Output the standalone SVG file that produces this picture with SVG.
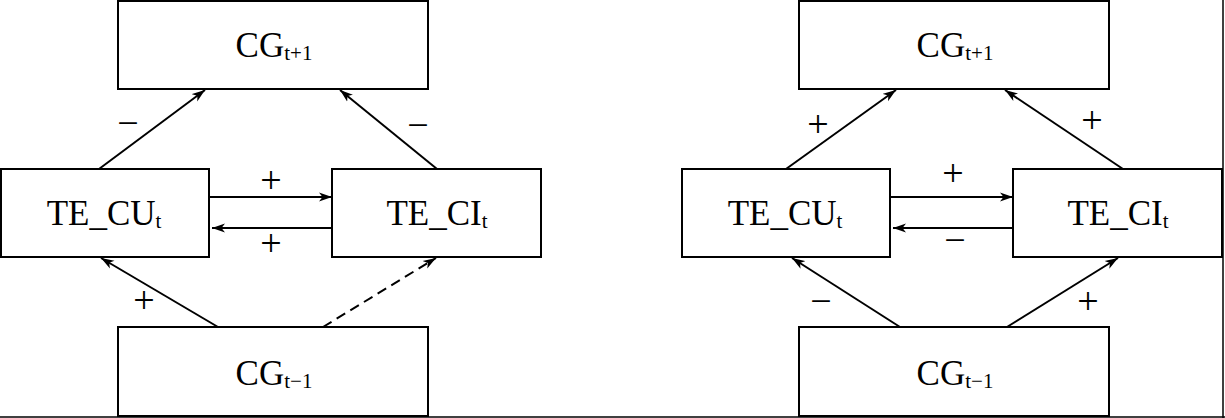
<svg xmlns="http://www.w3.org/2000/svg" width="1225" height="418" viewBox="0 0 1225 418">
<style>
.box{fill:#fff;stroke:#000;stroke-width:2}
.lbl{font-family:"Liberation Serif","Times New Roman",serif;font-size:35px;fill:#000;text-anchor:middle}
.sub{font-size:21px}
.sign{font-family:"Liberation Serif","Times New Roman",serif;font-size:38px;fill:#000;text-anchor:middle}
.c{stroke:#000;stroke-width:2;fill:none;marker-end:url(#ah)}
.d{stroke-dasharray:10 6}
.frame{stroke:#000;stroke-width:1.5;fill:none}
</style>
<defs>
<marker id="ah" markerUnits="userSpaceOnUse" markerWidth="14" markerHeight="10" refX="13" refY="5" orient="auto">
<path d="M0,0.5 L13,5 L0,9.5 L3.5,5 z" fill="#000"/>
</marker>
</defs>
<g id="frame">
<line class="frame" x1="1223" y1="0" x2="1223" y2="418"/>
<line class="frame" x1="0" y1="417" x2="1225" y2="417"/>
</g>
<g id="connectors">
<line class="c" x1="99" y1="169" x2="205" y2="90"/>
<line class="c" x1="437" y1="169" x2="340" y2="90"/>
<line class="c" x1="210" y1="197" x2="332" y2="197"/>
<line class="c" x1="332" y1="228" x2="212" y2="228"/>
<line class="c" x1="218" y1="327" x2="101" y2="258"/>
<line class="c d" x1="323" y1="327" x2="436" y2="258"/>
<line class="c" x1="786" y1="169" x2="896" y2="90"/>
<line class="c" x1="1123" y1="169" x2="1005" y2="90"/>
<line class="c" x1="891" y1="197" x2="1013" y2="197"/>
<line class="c" x1="1013" y1="228" x2="893" y2="228"/>
<line class="c" x1="900" y1="327" x2="792" y2="258"/>
<line class="c" x1="1007" y1="327" x2="1118" y2="258"/>
</g>
<g id="signs">
<text class="sign" x="128" y="136">−</text>
<text class="sign" x="418" y="138">−</text>
<text class="sign" x="271" y="193">+</text>
<text class="sign" x="271" y="256">+</text>
<text class="sign" x="144" y="313">+</text>
<text class="sign" x="818" y="137">+</text>
<text class="sign" x="1092" y="133">+</text>
<text class="sign" x="953" y="186">+</text>
<text class="sign" x="955" y="253">−</text>
<text class="sign" x="821" y="314">−</text>
<text class="sign" x="1088" y="314">+</text>
</g>
<g id="L_CG_next">
<rect class="box" x="118" y="1" width="310" height="88"/>
<text class="lbl" x="274" y="57">CG<tspan class="sub" dy="3">t+1</tspan></text>
</g>
<g id="L_TE_CU">
<rect class="box" x="1" y="169" width="208" height="88"/>
<text class="lbl" x="104" y="225">TE_CU<tspan class="sub" dy="3">t</tspan></text>
</g>
<g id="L_TE_CI">
<rect class="box" x="332" y="169" width="209" height="88"/>
<text class="lbl" x="437" y="225">TE_CI<tspan class="sub" dy="3">t</tspan></text>
</g>
<g id="L_CG_prev">
<rect class="box" x="118" y="327" width="310" height="89"/>
<text class="lbl" x="274" y="385">CG<tspan class="sub" dy="3">t−1</tspan></text>
</g>
<g id="R_CG_next">
<rect class="box" x="799" y="1" width="310" height="88"/>
<text class="lbl" x="955" y="57">CG<tspan class="sub" dy="3">t+1</tspan></text>
</g>
<g id="R_TE_CU">
<rect class="box" x="682" y="169" width="208" height="88"/>
<text class="lbl" x="785" y="225">TE_CU<tspan class="sub" dy="3">t</tspan></text>
</g>
<g id="R_TE_CI">
<rect class="box" x="1013" y="169" width="209" height="88"/>
<text class="lbl" x="1118" y="225">TE_CI<tspan class="sub" dy="3">t</tspan></text>
</g>
<g id="R_CG_prev">
<rect class="box" x="799" y="327" width="310" height="89"/>
<text class="lbl" x="955" y="385">CG<tspan class="sub" dy="3">t−1</tspan></text>
</g>
</svg>
